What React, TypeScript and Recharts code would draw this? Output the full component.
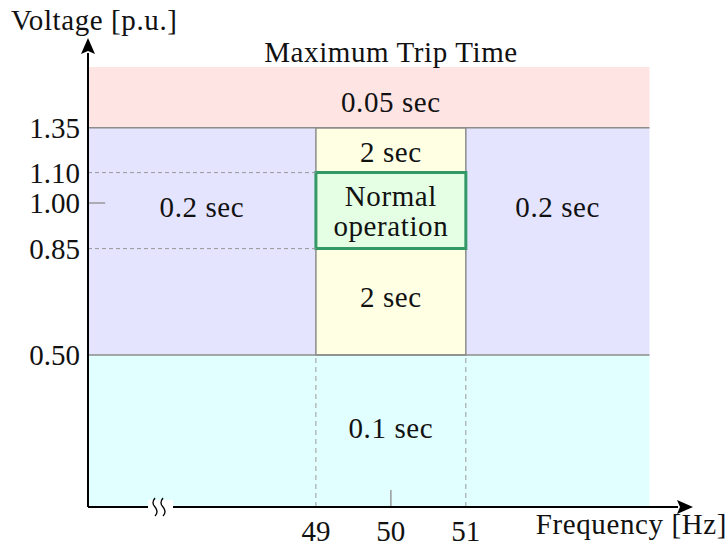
import {
  ComposedChart,
  XAxis,
  YAxis,
  ReferenceArea,
  ReferenceLine,
  Scatter,
  Customized,
} from "recharts";

const FONT = "Liberation Serif, DejaVu Serif, serif";

const frequencyTicks = [49, 50, 51];
const voltageTicks = [0.5, 0.85, 1.0, 1.1, 1.35];
const voltageTickLabels = ["0.50", "0.85", "1.00", "1.10", "1.35"];

// schematic frequency axis: broken left of 49 Hz
const F_LEFT = 45.96;
const F_BAND_END = 53.45;
const F_AXIS_END = 53.83;
const V_TOP = 1.55;

const tripZones = [
  { f1: F_LEFT, f2: F_BAND_END, v1: 1.35, v2: V_TOP },
  { f1: F_LEFT, f2: F_BAND_END, v1: 0.5, v2: 1.35 },
  { f1: F_LEFT, f2: F_BAND_END, v1: 0, v2: 0.5 },
  { f1: 49, f2: 51, v1: 0.5, v2: 1.35 },
  { f1: 49, f2: 51, v1: 0.85, v2: 1.1 },
];
const zoneFills = ["#ffe4e4", "#e4e4ff", "#e2ffff", "#ffffe4", "#e4ffe4"];
const zoneStrokes = ["none", "none", "none", "#8c8c8c", "#339966"];
const zoneStrokeWidths = [0, 0, 0, 1.5, 3];

// trip time labels, centred between the frequency edges, at the voltage
const timeLabels = [
  { text: "0.05 sec", f: [49, 51], v: 1.436 },
  { text: "0.2 sec", f: [F_LEFT, 49], v: 0.987 },
  { text: "0.2 sec", f: [51, F_BAND_END], v: 0.987 },
  { text: "2 sec", f: [49, 51], v: 1.215 },
  { text: "2 sec", f: [49, 51], v: 0.69 },
  { text: "0.1 sec", f: [49, 51], v: 0.26 },
  { text: "Normal\noperation", f: [49, 51], v: 0.975 },
];

const boundaryVolts = [0.5, 1.35];
const guideVolts = [0.85, 1.1];
const guideFreqs = [49, 51];

// the voltage axis is squeezed between 1.10 and 1.35
function toPlot(v: number) {
  if (v <= 1.1) return v;
  if (v <= 1.35) return 1.1 + (v - 1.1) * 0.59;
  return 1.2475 + (v - 1.35);
}

const Y_MAX = 454 / 304;
const plotTicks = voltageTicks.map(toPlot);

const labelRows = timeLabels.map((l) => ({
  f: (l.f[0] + l.f[1]) / 2,
  y: toPlot(l.v),
  text: l.text,
}));

const textAttrs = { fontFamily: FONT, fontSize: 29, fill: "#111" };
const wordAttrs = { ...textAttrs, letterSpacing: 0.6 };

function ZoneText(props: any) {
  const { cx, cy, payload } = props;
  const lines: string[] = payload.text.split("\n");
  const lh = 30;
  return (
    <text
      x={cx}
      y={cy - ((lines.length - 1) * lh) / 2}
      textAnchor="middle"
      dominantBaseline="central"
      {...wordAttrs}
    >
      {lines.map((s, i) => (
        <tspan key={i} x={cx} dy={i === 0 ? 0 : lh}>
          {s}
        </tspan>
      ))}
    </text>
  );
}

function ArrowDefs() {
  return (
    <defs>
      <marker
        id="axisArrow"
        viewBox="0 0 16 14"
        refX="1"
        refY="7"
        markerWidth="16"
        markerHeight="14"
        markerUnits="userSpaceOnUse"
        orient="auto-start-reverse"
      >
        <path d="M0,0 L16,7 L0,14 L3,7 Z" fill="#000" />
      </marker>
    </defs>
  );
}

// drawn on top of the chart: axis break and titles
function Overlay() {
  return (
    <svg
      width={728}
      height={549}
      style={{ position: "absolute", left: 0, top: 0, pointerEvents: "none" }}
    >
      <rect x={148} y={500} width={25} height={14} fill="#fff" />
      <path d="M155,498 Q151,503 155,507 Q159,512 155,516" stroke="#000" strokeWidth={1.3} fill="none" />
      <path d="M163,498 Q159,503 163,507 Q167,512 163,516" stroke="#000" strokeWidth={1.3} fill="none" />
      <text x={11} y={30} {...wordAttrs}>
        Voltage [p.u.]
      </text>
      <text x={727} y={534} textAnchor="end" {...wordAttrs}>
        Frequency [Hz]
      </text>
      <text x={391} y={62} textAnchor="middle" {...wordAttrs}>
        Maximum Trip Time
      </text>
    </svg>
  );
}

export default function App() {
  return (
    <div
      style={{
        position: "absolute",
        left: 0,
        top: 0,
        width: 728,
        height: 549,
        background: "#fff",
      }}
    >
      <ComposedChart
        width={728}
        height={549}
        margin={{ top: 53, right: 50, left: 0, bottom: 0 }}
      >
        <XAxis
          dataKey="f"
          type="number"
          domain={[F_LEFT, F_AXIS_END]}
          ticks={frequencyTicks}
          allowDataOverflow
          height={42}
          tickLine={false}
          tickMargin={7}
          tick={textAttrs}
          axisLine={{ stroke: "#000", strokeWidth: 2, markerEnd: "url(#axisArrow)" }}
        />
        <YAxis
          type="number"
          domain={[0, Y_MAX]}
          ticks={plotTicks}
          interval={0}
          allowDataOverflow
          width={88}
          tickLine={false}
          tick={textAttrs}
          tickFormatter={(p: number) =>
            voltageTickLabels[plotTicks.findIndex((t) => Math.abs(t - p) < 1e-6)] ?? ""
          }
          axisLine={{ stroke: "#000", strokeWidth: 2, markerStart: "url(#axisArrow)" }}
        />
        {tripZones.map((z, i) => (
          <ReferenceArea
            key={i}
            x1={z.f1}
            x2={z.f2}
            y1={toPlot(z.v1)}
            y2={toPlot(z.v2)}
            fill={zoneFills[i]}
            fillOpacity={1}
            stroke={zoneStrokes[i]}
            strokeWidth={zoneStrokeWidths[i]}
            ifOverflow="extendDomain"
          />
        ))}
        {boundaryVolts.map((v) => (
          <ReferenceLine
            key={"b" + v}
            segment={[
              { x: F_LEFT, y: toPlot(v) },
              { x: F_BAND_END, y: toPlot(v) },
            ]}
            stroke="#8c8c8c"
            strokeWidth={1.5}
          />
        ))}
        {guideVolts.map((v) => (
          <ReferenceLine
            key={"gv" + v}
            segment={[
              { x: F_LEFT, y: toPlot(v) },
              { x: 49, y: toPlot(v) },
            ]}
            stroke="#999"
            strokeDasharray="4 3"
          />
        ))}
        {guideFreqs.map((f) => (
          <ReferenceLine
            key={"gf" + f}
            segment={[
              { x: f, y: 0 },
              { x: f, y: toPlot(0.5) },
            ]}
            stroke="#999"
            strokeDasharray="5 4"
          />
        ))}
        <ReferenceLine
          segment={[
            { x: F_LEFT, y: 1.0 },
            { x: F_LEFT + 0.23, y: 1.0 },
          ]}
          stroke="#999"
          strokeWidth={1.5}
        />
        <ReferenceLine
          segment={[
            { x: 50, y: 0 },
            { x: 50, y: 0.056 },
          ]}
          stroke="#999"
          strokeWidth={1.5}
        />
        <Scatter
          data={labelRows}
          dataKey="y"
          isAnimationActive={false}
          shape={ZoneText}
        />
        <Customized component={ArrowDefs} />
      </ComposedChart>
      <Overlay />
    </div>
  );
}
